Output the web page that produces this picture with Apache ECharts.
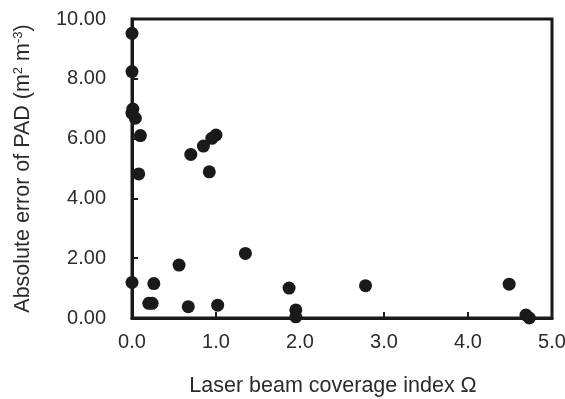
<!DOCTYPE html>
<html>
<head>
<meta charset="utf-8">
<script src="https://cdn.jsdelivr.net/npm/echarts@6/dist/echarts.min.js"></script>
<style>
  html, body { margin: 0; padding: 0; background: #fff; }
  #chart { width: 565px; height: 399px; }
</style>
</head>
<body>
<div id="chart"></div>
<script>
// laser beam coverage index (x) vs absolute error of PAD (y)
const coverageIndex = [0.00, 0.00, 0.01, 0.00, 0.04, 0.10, 0.08, 0.70, 0.85, 0.95, 1.00, 0.92, 1.35, 0.56,
  0.00, 0.26, 0.20, 0.24, 0.67, 1.02, 1.87, 1.95, 1.95, 2.78, 4.49, 4.69, 4.73];
const padError = [9.52, 8.24, 6.99, 6.85, 6.68, 6.10, 4.82, 5.47, 5.75, 6.01, 6.12, 4.89, 2.16, 1.77,
  1.19, 1.15, 0.49, 0.49, 0.38, 0.43, 1.00, 0.27, 0.04, 1.08, 1.13, 0.10, 0.00];

const xTitle = 'Laser beam coverage index Ω';
const yTitle = 'Absolute error of PAD (m{sup|2} m{sup|-3})';

const font = "'Liberation Sans', Arial, sans-serif";
const ink = '#1a1a1a';
const textColor = '#2b2b2b';

const chart = echarts.init(document.getElementById('chart'));

const option = {
  backgroundColor: '#fff',
  animation: false,
  grid: {
    left: 132, right: 13, top: 19, bottom: 81,
    outerBoundsMode: 'none',
    show: true,
    borderColor: ink,
    borderWidth: 3
  },
  xAxis: {
    type: 'value',
    min: 0, max: 5, interval: 1,
    name: xTitle,
    nameLocation: 'middle',
    nameGap: 57,
    nameTextStyle: { fontFamily: font, fontSize: 21.5, color: textColor, padding: [0, 18, 0, 0] },
    axisLine: { show: true, lineStyle: { color: ink, width: 3 } },
    axisTick: { show: true, inside: true, length: 6, lineStyle: { color: ink, width: 2 } },
    axisLabel: {
      fontFamily: font, fontSize: 20, color: textColor, margin: 14,
      formatter: v => v.toFixed(1)
    },
    splitLine: { show: false }
  },
  yAxis: {
    type: 'value',
    min: 0, max: 10, interval: 2,
    name: yTitle,
    nameLocation: 'middle',
    nameGap: 98,
    nameTextStyle: {
      fontFamily: font, fontSize: 21.5, color: textColor,
      rich: {
        sup: { fontFamily: font, fontSize: 13, color: textColor, verticalAlign: 'top', lineHeight: 21 }
      }
    },
    axisLine: { show: true, lineStyle: { color: ink, width: 3 } },
    axisTick: { show: true, inside: true, length: 6, lineStyle: { color: ink, width: 2 } },
    axisLabel: {
      fontFamily: font, fontSize: 20, color: textColor, margin: 26,
      formatter: v => v.toFixed(2)
    },
    splitLine: { show: false }
  },
  series: [
    {
      type: 'scatter',
      data: coverageIndex.map((x, i) => [x, padError[i]]),
      symbol: 'circle',
      symbolSize: 13,
      itemStyle: { color: ink, opacity: 1 },
      clip: false
    }
  ]
};

chart.setOption(option);
</script>
</body>
</html>
